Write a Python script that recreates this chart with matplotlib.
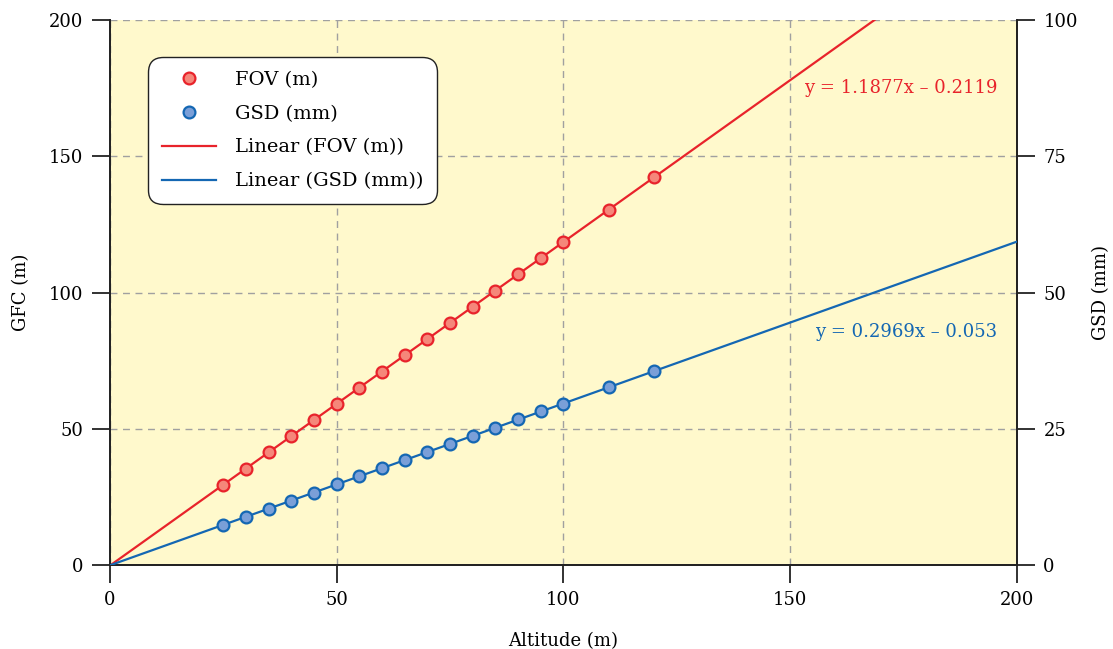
import numpy as np
import matplotlib.pyplot as plt

# altitude (m)
altitude = [25, 30, 35, 40, 45, 50, 55, 60, 65, 70, 75, 80, 85, 90, 95, 100, 110, 120]
# field of view (m), left axis
fov = [29.5, 35.4, 41.4, 47.3, 53.2, 59.2, 65.1, 71.0, 77.0, 82.9, 88.9, 94.8,
       100.7, 106.7, 112.6, 118.6, 130.4, 142.3]
# ground sample distance (mm), right axis
gsd = [7.4, 8.9, 10.3, 11.8, 13.3, 14.8, 16.3, 17.8, 19.2, 20.7, 22.2, 23.7,
       25.2, 26.7, 28.2, 29.6, 32.6, 35.6]

fov_eq = 'y = 1.1877x – 0.2119'
gsd_eq = 'y = 0.2969x – 0.053'

plt.rcParams['font.family'] = ['DejaVu Serif']

RED = '#e8232b'
RED_FILL = '#f5877a'
BLUE = '#1467b3'
BLUE_FILL = '#7a9fd8'
BG = '#fff9cc'

fig = plt.figure(figsize=(11.13, 6.49), dpi=100)
ax = fig.add_axes([0.0988, 0.1294, 0.8149, 0.8398])
ax2 = ax.twinx()

ax.set_facecolor(BG)
ax.set_xlim(0, 200)
ax.set_ylim(0, 200)
ax2.set_ylim(0, 100)
ax.set_xticks([0, 50, 100, 150, 200])
ax.set_yticks([0, 50, 100, 150, 200])
ax2.set_yticks([0, 25, 50, 75, 100])

ax.grid(True, color='#a0a0a0', linestyle=(0, (5, 4)), linewidth=1)
ax.set_axisbelow(True)

# trend lines
xs = np.array([0, 200])
p_fov = np.polyfit(altitude, fov, 1)
p_gsd = np.polyfit(altitude, gsd, 1)
ax.plot(xs, np.polyval(p_fov, xs), color=RED, lw=1.6, label='Linear (FOV (m))', zorder=3)
ax2.plot(xs, np.polyval(p_gsd, xs), color=BLUE, lw=1.6, label='Linear (GSD (mm))', zorder=3)

ax.plot(altitude, fov, 'o', ms=8.5, mfc=RED_FILL, mec=RED, mew=1.6, label='FOV (m)', zorder=4)
ax2.plot(altitude, gsd, 'o', ms=8.5, mfc=BLUE_FILL, mec=BLUE, mew=1.6, label='GSD (mm)', zorder=4)

ax.text(195.7, 175, fov_eq, color=RED, fontsize=13, ha='right', va='center')
ax.text(195.7, 85.5, gsd_eq, color=BLUE, fontsize=13, ha='right', va='center')

for a in (ax, ax2):
    a.spines['top'].set_visible(False)
    for s in a.spines.values():
        s.set_color('#222222')
        s.set_linewidth(1.3)
    a.tick_params(length=13, width=1.3, color='#222222', labelsize=13, pad=6)

ax.set_xlabel('Altitude (m)', fontsize=13, labelpad=16)
ax.set_ylabel('GFC (m)', fontsize=13, labelpad=14)
ax2.set_ylabel('GSD (mm)', fontsize=13, labelpad=10)

h1, l1 = ax.get_legend_handles_labels()
h2, l2 = ax2.get_legend_handles_labels()
handles = [h1[1], h2[1], h1[0], h2[0]]
labels = [l1[1], l2[1], l1[0], l2[0]]
leg = ax2.legend(handles, labels, loc='upper left', bbox_to_anchor=(0.042, 0.932),
                 borderaxespad=0, fontsize=14, frameon=True, fancybox=True,
                 handlelength=2.8, borderpad=0.7, labelspacing=0.82,
                 handletextpad=0.95)
frame = leg.get_frame()
frame.set_edgecolor('#222222')
frame.set_linewidth(1.0)
frame.set_alpha(1)
frame.set_boxstyle('round,pad=0,rounding_size=0.75')

fig.savefig('out.png', dpi=100)
